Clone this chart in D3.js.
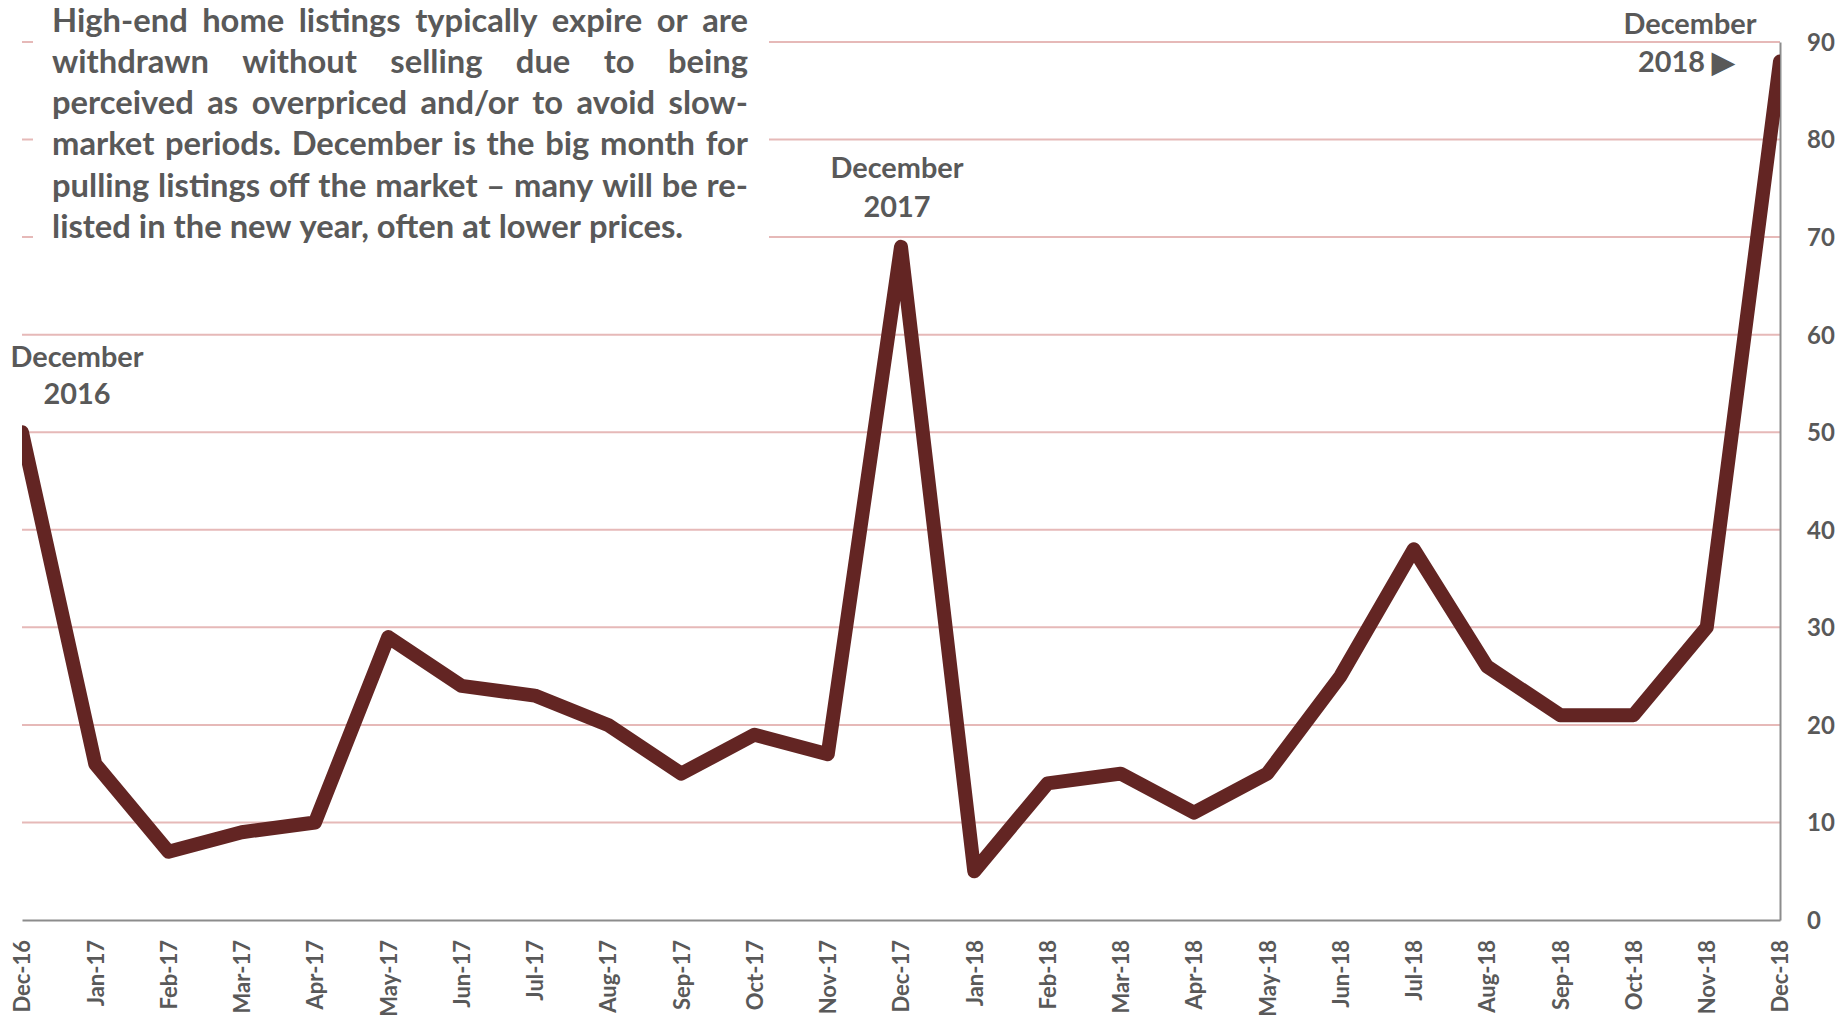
<!DOCTYPE html>
<html>
<head>
<meta charset="utf-8">
<script src="https://cdn.jsdelivr.net/npm/d3@7"></script>
<style>
  html, body { margin: 0; padding: 0; background: #ffffff; }
  svg { display: block; }
  text { font-family: Lato, "Open Sans", sans-serif; font-weight: 700; fill: #595959; }
</style>
</head>
<body>
<svg id="chart" width="1848" height="1022"></svg>
<script>
// Monthly count of expired / withdrawn high-end listings
const months = ["Dec-16","Jan-17","Feb-17","Mar-17","Apr-17","May-17","Jun-17","Jul-17","Aug-17","Sep-17","Oct-17","Nov-17",
                "Dec-17","Jan-18","Feb-18","Mar-18","Apr-18","May-18","Jun-18","Jul-18","Aug-18","Sep-18","Oct-18","Nov-18","Dec-18"];
const listings = [50,16,7,9,10,29,24,23,20,15,19,17,69,5,14,15,11,15,25,38,26,21,21,30,88];
const yTicks = [0,10,20,30,40,50,60,70,80,90];

const noteLines = [
  "High-end home listings typically expire or are",
  "withdrawn without selling due to being",
  "perceived as overpriced and/or to avoid slow-",
  "market periods. December is the big month for",
  "pulling listings off the market \u2013 many will be re-",
  "listed in the new year, often at lower prices."
];
const peakLabels = [
  { month: "Dec-16", lines: ["December", "2016"] },
  { month: "Dec-17", lines: ["December", "2017"] },
  { month: "Dec-18", lines: ["December", "2018 \u25B6"] }
];

const svg = d3.select("#chart");
const plotLeft = 22, plotRight = 1780, plotTop = 42, plotBottom = 920;

const x = d3.scalePoint().domain(months).range([plotLeft, plotRight]);
const y = d3.scaleLinear().domain([0, 90]).range([plotBottom, plotTop]);

// horizontal gridlines
svg.append("g")
  .selectAll("line")
  .data(yTicks.filter(d => d > 0))
  .join("line")
  .attr("x1", plotLeft).attr("x2", plotRight)
  .attr("y1", d => y(d)).attr("y2", d => y(d))
  .attr("stroke", "#e6b9b8").attr("stroke-width", 2);

// right-hand value axis
const yAxis = svg.append("g")
  .attr("transform", `translate(${plotRight},0)`)
  .call(d3.axisRight(y).tickValues(yTicks).tickSize(0).tickPadding(27));
yAxis.select(".domain").attr("stroke", "#8c8c8c").attr("stroke-width", 2);
yAxis.selectAll("text")
  .attr("font-family", "Lato, sans-serif").attr("font-weight", 700)
  .attr("font-size", 24).attr("fill", "#595959").attr("dy", "0.35em");

// bottom month axis with rotated labels
const xAxis = svg.append("g")
  .attr("transform", `translate(0,${plotBottom})`)
  .call(d3.axisBottom(x).tickSize(0).tickPadding(0));
xAxis.select(".domain").attr("stroke", "#8c8c8c").attr("stroke-width", 2);
xAxis.selectAll("text")
  .attr("font-family", "Lato, sans-serif").attr("font-weight", 700)
  .attr("font-size", 22).attr("fill", "#595959")
  .attr("transform", "rotate(-90)")
  .attr("text-anchor", "end")
  .attr("x", -20).attr("y", 0).attr("dy", "0.36em");

// data line, clipped to the plot area
svg.append("clipPath").attr("id", "plotClip")
  .append("rect").attr("x", plotLeft).attr("y", 0).attr("width", plotRight - plotLeft).attr("height", 1022);

svg.append("path")
  .datum(listings)
  .attr("clip-path", "url(#plotClip)")
  .attr("fill", "none")
  .attr("stroke", "#632523")
  .attr("stroke-width", 14)
  .attr("stroke-linejoin", "round")
  .attr("stroke-linecap", "round")
  .attr("d", d3.line().x((d, i) => x(months[i])).y(d => y(d)));

// explanatory note box (white backing hides the gridlines beneath)
svg.append("rect").attr("x", 33).attr("y", 0).attr("width", 736).attr("height", 250).attr("fill", "#ffffff");

const note = svg.append("g");
const noteLeft = 52, noteRight = 748, noteWidth = noteRight - noteLeft;
const firstBaseline = 31.5, lineStep = 41.3;

// size the note font so the final (unjustified) line spans its width
const probe = note.append("text").attr("font-size", 28).text(noteLines[noteLines.length - 1]);
const natural = probe.node().getComputedTextLength();
const noteSize = 28 * 629 / natural;
probe.remove();

noteLines.forEach((line, li) => {
  const words = line.split(" ");
  const baseline = firstBaseline + li * lineStep;
  const isLast = li === noteLines.length - 1;
  const nodes = words.map(w => note.append("text").attr("font-size", noteSize).attr("y", baseline).text(w));
  const widths = nodes.map(n => n.node().getComputedTextLength());
  const spaceProbe = note.append("text").attr("font-size", noteSize).text("a a");
  const aProbe = note.append("text").attr("font-size", noteSize).text("aa");
  const spaceW = spaceProbe.node().getComputedTextLength() - aProbe.node().getComputedTextLength();
  spaceProbe.remove(); aProbe.remove();
  const total = d3.sum(widths);
  const gap = isLast || words.length < 2 ? spaceW : (noteWidth - total) / (words.length - 1);
  let cx = noteLeft;
  nodes.forEach((n, i) => { n.attr("x", cx); cx += widths[i] + gap; });
});

// peak annotations
const ann = svg.append("g");
const annProbe = ann.append("text").attr("font-size", 28).text("December");
const annSize = 28 * 133 / annProbe.node().getComputedTextLength();
annProbe.remove();

const annPos = {
  "Dec-16": { cx: 77, b1: 367, b2: 404 },
  "Dec-17": { cx: 897, b1: 178, b2: 217 },
  "Dec-18": { cx: 1690, b1: 34, b2: 72 }
};
peakLabels.forEach(p => {
  const pos = annPos[p.month];
  ann.append("text").attr("font-size", annSize).attr("text-anchor", "middle")
    .attr("x", pos.cx).attr("y", pos.b1).text(p.lines[0]);
  ann.append("text").attr("font-size", annSize).attr("text-anchor", "middle")
    .attr("x", p.month === "Dec-18" ? 1686 : pos.cx).attr("y", pos.b2).text(p.lines[1]);
});
</script>
</body>
</html>
